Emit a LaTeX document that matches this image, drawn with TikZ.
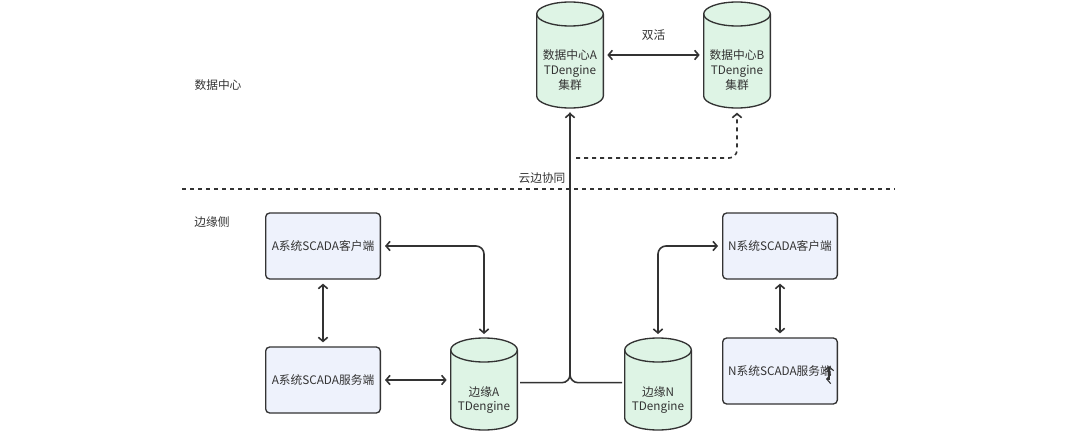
\documentclass[tikz,border=0pt]{standalone}
\usepackage{fontspec}
\setmainfont{Noto Sans CJK SC}
\usetikzlibrary{arrows.meta}
\definecolor{cylfill}{HTML}{DEF4E5}
\definecolor{boxfill}{HTML}{EEF2FC}
\definecolor{ink}{HTML}{333333}
% cylinder drawn round an empty node
\newcommand\dbshape[1]{%
    \filldraw[draw=ink,fill=cylfill,line width=1pt] ([yshift=-9pt]#1.north west)
        -- ([yshift=9pt]#1.south west) arc[start angle=180,end angle=360,x radius=25pt,y radius=9pt]
        -- ([yshift=-9pt]#1.north east) arc[start angle=0,end angle=180,x radius=25pt,y radius=9pt] -- cycle;
    \draw[ink,line width=1pt] ([yshift=-9pt]#1.north west) arc[start angle=180,end angle=360,x radius=25pt,y radius=9pt];}
\begin{document}
\begin{tikzpicture}[x=0.75pt,y=-0.75pt,
    font=\fontsize{8.8}{11.2}\selectfont, text=ink,
    barb/.tip={Straight Barb[length=3pt,width=7pt]},
    tip/.style={barb-barb,shorten <=3pt,shorten >=3pt},
    db/.style={rectangle,minimum width=50pt,inner sep=0pt,outer sep=0pt},
    dbtext/.style={align=center,inner sep=1pt},
    sys/.style={rectangle,rounded corners=3pt,draw=ink,line width=1pt,fill=boxfill,
        minimum width=86pt,minimum height=49.5pt,inner sep=1pt},
    link/.style={draw=ink,line width=1.2pt,rounded corners=6pt}]
    \useasboundingbox (0,0) rectangle (1080,442);
    % data centre
    \node[db,minimum height=79.5pt] (dca) at (570,55) {};
    \node[db,minimum height=79.5pt] (dcb) at (737,55) {};
    \dbshape{dca}
    \dbshape{dcb}
    \node[dbtext] (dcat) at ([yshift=-11pt]dca) {数据中心A\\TDengine\\集群};
    \node[dbtext] (dcbt) at ([yshift=-11pt]dcb) {数据中心B\\TDengine\\集群};
    \draw[link,tip] (dca) -- (dcb) node[midway,above=7pt] {双活};
    % edge
    \node[sys] (ac) at (323,246) {A系统SCADA客户端};
    \node[sys] (as) at (323,380) {A系统SCADA服务端};
    \node[sys] (nc) at (780,246) {N系统SCADA客户端};
    \node[sys] (ns) at (780,371) {N系统SCADA服务端};
    \node[db,minimum height=69pt] (ea) at (484,384) {};
    \node[db,minimum height=69pt] (en) at (658,384) {};
    \dbshape{ea}
    \dbshape{en}
    \node[dbtext] (eat) at ([yshift=-12pt]ea) {边缘A\\TDengine};
    \node[dbtext] (ent) at ([yshift=-12pt]en) {边缘N\\TDengine};
    % zones
    \draw[ink,dashed,line width=0.9pt] (182,189) -- (895,189);
    \path (218,85) node {数据中心};
    \path (212,222) node {边缘侧};
    \path (542,178) node {云边协同};
    % connectors
    \draw[link,tip] (ac) -- (as);
    \draw[link,tip] (nc) -- (ns);
    \draw[link,tip] (as.east) -- (as.east -| ea.west);
    \draw[link,tip] (ac) -| (ea);
    \draw[link,tip] (en) |- (nc);
    \draw[link,-barb,shorten <=2pt,shorten >=3.5pt] ([yshift=1pt]ea.east) -| (dca.south);
    \draw[link,shorten <=2pt,shorten >=3.5pt] ([yshift=1pt]en.west) -| (dca.south);
    \coordinate (cloud) at (576,158);
    \draw[link,dashed,-barb,shorten >=3.5pt] (cloud) -| (dcb.south);
    \draw[draw=ink,line width=0.8pt,barb-barb] (826,379) -- (829,379) -- (829,366);
\end{tikzpicture}
\end{document}
